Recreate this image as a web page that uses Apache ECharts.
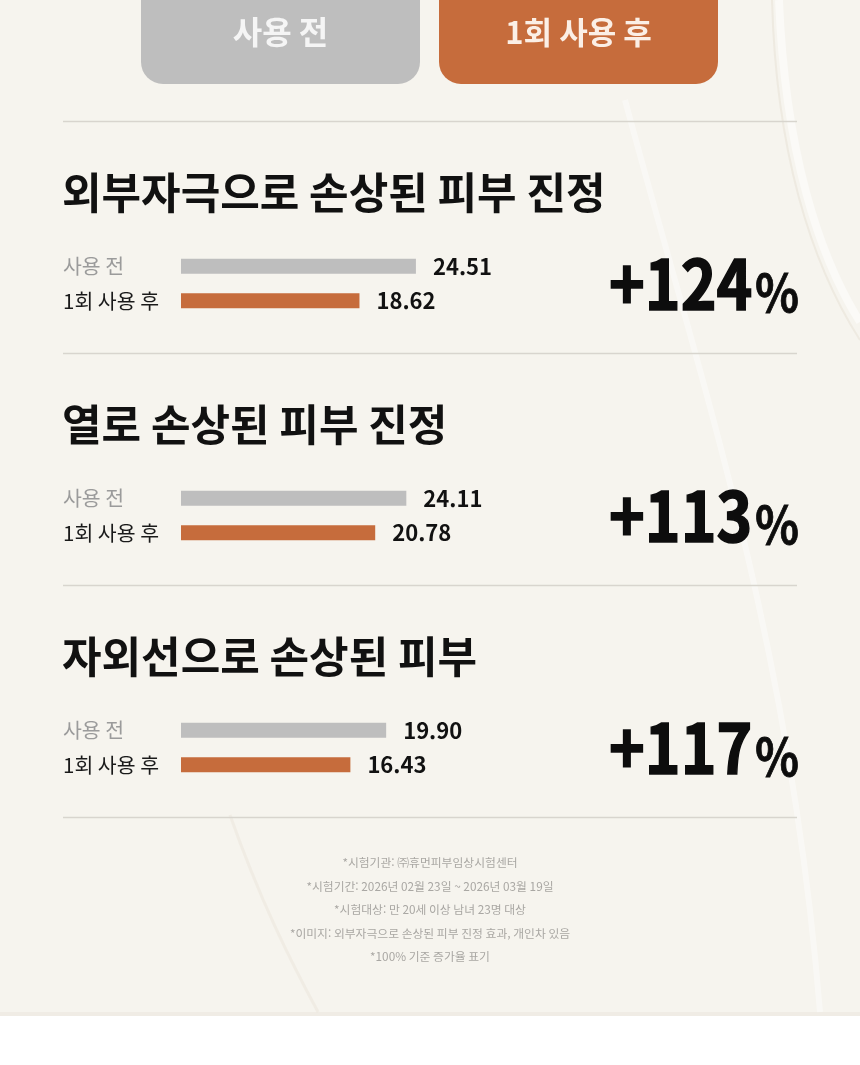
<!DOCTYPE html>
<html lang="ko">
<head>
  <meta charset="utf-8">
  <title>피부 진정 비교</title>
  <script src="https://fastly.jsdelivr.net/npm/echarts@6.0.0/dist/echarts.min.js"></script>
  <style>
    * { margin: 0; padding: 0; }
    #chart { width: 860px; height: 1065px; }
  </style>
</head>
<body>
  <div id="chart"></div>
  <script>
    // data
    var buttons = ['사용 전', '1회 사용 후'];
    var rows = ['사용 전', '1회 사용 후'];
    var titles = ['외부자극으로 손상된 피부 진정', '열로 손상된 피부 진정', '자외선으로 손상된 피부'];
    var beforeValues = [24.51, 24.11, 19.90];
    var afterValues = [18.62, 20.78, 16.43];
    var gains = [124, 113, 117];
    var notes = [
      '*시험기관: ㈜휴먼피부임상시험센터',
      '*시험기간: 2026년 02월 23일 ~ 2026년 03월 19일',
      '*시험대상: 만 20세 이상 남녀 23명 대상',
      '*이미지: 외부자극으로 손상된 피부 진정 효과, 개인차 있음',
      '*100% 기준 증가율 표기'
    ];

    var FONT = "'Noto Sans CJK KR', 'Noto Sans', sans-serif";
    var GRAY = '#bebebe';
    var ORANGE = '#c66c3c';
    var STEP = 232;
    var axisMax = [31.3, 32.1, 29.1];  // each block has its own bar scale

    var chart = echarts.init(document.getElementById('chart'), null, { renderer: 'canvas' });

    var grids = [], xAxes = [], yAxes = [], series = [];
    var graphic = [
      // cream page, white strip at the bottom
      { type: 'rect', shape: { x: 0, y: 0, width: 860, height: 1015 }, style: { fill: '#f6f4ee' }, z: -10 },
      { type: 'rect', shape: { x: 0, y: 1012, width: 860, height: 4 }, style: { fill: '#f0ece5' }, z: -9 },
      // soft silk curves
      { type: 'bezierCurve', shape: { x1: 772, y1: 0, cpx1: 776, cpy1: 150, cpx2: 810, cpy2: 262, x2: 860, y2: 340 },
        style: { stroke: 'rgba(228,222,208,0.45)', lineWidth: 2, fill: null }, z: -8 },
      { type: 'bezierCurve', shape: { x1: 779, y1: 0, cpx1: 785, cpy1: 150, cpx2: 818, cpy2: 255, x2: 860, y2: 322 },
        style: { stroke: 'rgba(255,255,255,0.5)', lineWidth: 8, fill: null }, z: -8 },
      { type: 'bezierCurve', shape: { x1: 625, y1: 100, cpx1: 700, cpy1: 380, cpx2: 790, cpy2: 640, x2: 820, y2: 1012 },
        style: { stroke: 'rgba(255,255,255,0.4)', lineWidth: 6, fill: null }, z: -8 },
      { type: 'bezierCurve', shape: { x1: 230, y1: 815, cpx1: 260, cpy1: 900, cpx2: 290, cpy2: 960, x2: 318, y2: 1012 },
        style: { stroke: 'rgba(232,226,212,0.4)', lineWidth: 3, fill: null }, z: -8 }
    ];

    // top buttons
    var btnFill = [GRAY, ORANGE];
    var btnText = ['#f5f5f5', '#fbefe6'];
    var btnFont = [32, 31];
    buttons.forEach(function (name, i) {
      var x = i === 0 ? 141 : 439;
      graphic.push({
        type: 'rect',
        shape: { x: x, y: -30, width: 279, height: 114, r: 22 },
        style: { fill: btnFill[i] }
      });
      graphic.push({
        type: 'text', x: x + 139.5, y: 32,
        style: { text: name, fill: btnText[i], font: '600 ' + btnFont[i] + 'px ' + FONT, align: 'center', verticalAlign: 'middle' }
      });
    });

    // dividers
    for (var k = 0; k < 4; k++) {
      graphic.push({
        type: 'line',
        shape: { x1: 63, y1: 121.5 + STEP * k, x2: 797, y2: 121.5 + STEP * k },
        style: { stroke: '#d8d5ce', lineWidth: 1.5 }
      });
    }

    titles.forEach(function (title, i) {
      var top = 249 + STEP * i;

      graphic.push({
        type: 'text', x: 62, y: 193 + STEP * i,
        style: { text: title, fill: '#111', font: 'bold 43px ' + FONT, verticalAlign: 'middle' }
      });

      graphic.push({
        type: 'text', x: 799, y: 284 + STEP * i, scaleX: 0.88,
        style: {
          text: '{n|+' + gains[i] + '}{p|%}',
          align: 'right', verticalAlign: 'middle',
          rich: {
            n: { fontSize: 69, fontWeight: 'bold', fontFamily: FONT, fill: '#0d0d0d', lineHeight: 69, verticalAlign: 'bottom',
                 stroke: '#0d0d0d', lineWidth: 1.6 },
            p: { fontSize: 52, fontWeight: 'bold', fontFamily: FONT, fill: '#0d0d0d', lineHeight: 52, verticalAlign: 'bottom',
                 padding: [0, 0, 0, 3], stroke: '#0d0d0d', lineWidth: 0.8 }
          }
        }
      });

      grids.push({ left: 181, width: 300, top: top, height: 69, outerBoundsMode: 'none', containLabel: false });
      xAxes.push({ type: 'value', gridIndex: i, min: 0, max: axisMax[i], show: false });
      yAxes.push({
        type: 'category', gridIndex: i, inverse: true,
        data: rows,
        axisLine: { show: false }, axisTick: { show: false }, splitLine: { show: false },
        axisLabel: {
          align: 'left', margin: 118,
          formatter: function (v, idx) { return idx === 0 ? '{g|' + v + '}' : '{b|' + v + '}'; },
          rich: {
            g: { fontSize: 20.5, fontFamily: FONT, color: '#9b9b9b', align: 'left' },
            b: { fontSize: 20.5, fontFamily: FONT, color: '#1a1a1a', align: 'left' }
          }
        }
      });
      series.push({
        type: 'bar', xAxisIndex: i, yAxisIndex: i, barWidth: 15,
        data: [
          { value: beforeValues[i], itemStyle: { color: GRAY } },
          { value: afterValues[i], itemStyle: { color: ORANGE } }
        ],
        label: {
          show: true, position: 'right', distance: 17,
          fontSize: 22, fontWeight: 'bold', fontFamily: FONT, color: '#111',
          formatter: function (p) { return p.value.toFixed(2); }
        },
        silent: true, animation: false
      });
    });

    notes.forEach(function (line, j) {
      graphic.push({
        type: 'text', x: 430, y: 863 + 23.5 * j,
        style: { text: line, fill: '#a9a7a3', font: '11.8px ' + FONT, align: 'center', verticalAlign: 'middle' }
      });
    });

    var option = {
      backgroundColor: '#ffffff',
      animation: false,
      grid: grids,
      xAxis: xAxes,
      yAxis: yAxes,
      series: series,
      graphic: { elements: graphic }
    };

    chart.setOption(option);
    window.addEventListener('resize', chart.resize);
  </script>
</body>
</html>
